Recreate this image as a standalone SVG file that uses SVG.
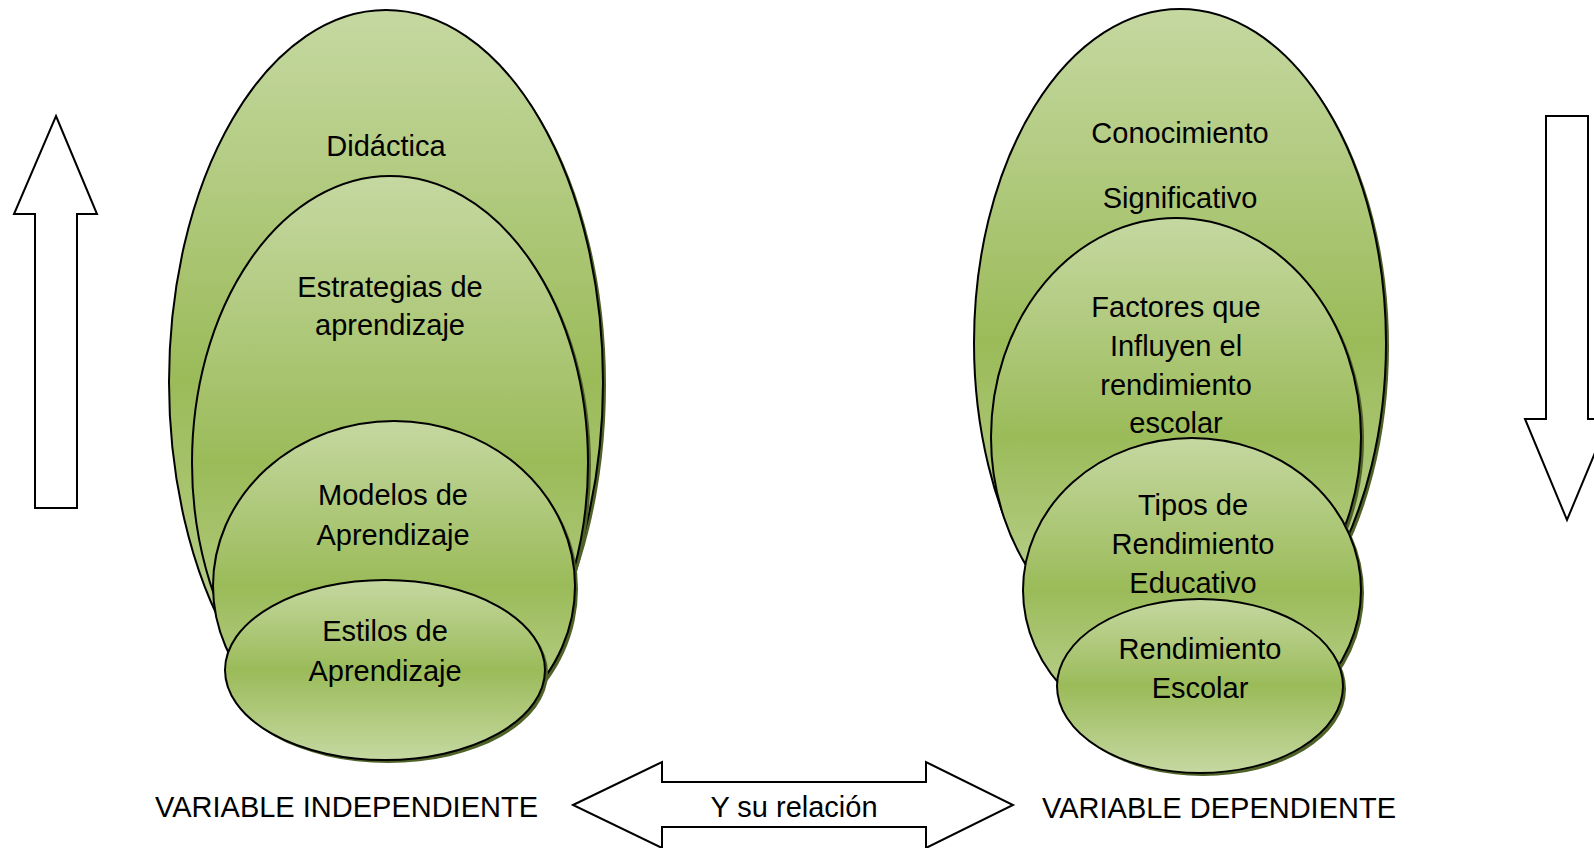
<svg xmlns="http://www.w3.org/2000/svg" width="1594" height="848" viewBox="0 0 1594 848">
  <defs>
    <linearGradient id="g" x1="0" y1="0" x2="0" y2="1">
      <stop offset="0" stop-color="#c5d8a1"/>
      <stop offset="0.5" stop-color="#9bbb59"/>
      <stop offset="1" stop-color="#c5d8a1"/>
    </linearGradient>
  </defs>
  <style>
    .sh { fill: #4f6228; }
    .el { fill: url(#g); stroke: #000; stroke-width: 2; }
    .ar { fill: #fff; stroke: #000; stroke-width: 2; stroke-linejoin: miter; }
    text { font-family: "Liberation Sans", Arial, sans-serif; font-size: 29px; fill: #000; }
    .c { text-anchor: middle; }
  </style>
  <rect width="1594" height="848" fill="#fff"/>

  <g id="didactica">
    <ellipse class="sh" cx="389" cy="385" rx="217" ry="372"/>
    <ellipse class="el" cx="386" cy="382" rx="217" ry="372"/>
    <text class="c" x="386" y="156">Didáctica</text>
  </g>
  <g id="estrategias">
    <ellipse class="sh" cx="393" cy="466" rx="198" ry="287"/>
    <ellipse class="el" cx="390" cy="463" rx="198" ry="287"/>
    <text class="c" x="390" y="297">Estrategias de</text>
    <text class="c" x="390" y="335">aprendizaje</text>
  </g>
  <g id="modelos">
    <ellipse class="sh" cx="397" cy="589" rx="181" ry="165"/>
    <ellipse class="el" cx="394" cy="586" rx="181" ry="165"/>
    <text class="c" x="393" y="505">Modelos de</text>
    <text class="c" x="393" y="545">Aprendizaje</text>
  </g>
  <g id="estilos">
    <ellipse class="sh" cx="388" cy="673" rx="160" ry="90"/>
    <ellipse class="el" cx="385" cy="670" rx="160" ry="90"/>
    <text class="c" x="385" y="641">Estilos de</text>
    <text class="c" x="385" y="681">Aprendizaje</text>
  </g>

  <g id="conocimiento">
    <ellipse class="sh" cx="1183" cy="346" rx="206" ry="334"/>
    <ellipse class="el" cx="1180" cy="343" rx="206" ry="334"/>
    <text class="c" x="1180" y="143">Conocimiento</text>
    <text class="c" x="1180" y="208">Significativo</text>
  </g>
  <g id="factores">
    <ellipse class="sh" cx="1179" cy="440" rx="185" ry="219"/>
    <ellipse class="el" cx="1176" cy="437" rx="185" ry="219"/>
    <text class="c" x="1176" y="317">Factores que</text>
    <text class="c" x="1176" y="356">Influyen el</text>
    <text class="c" x="1176" y="395">rendimiento</text>
    <text class="c" x="1176" y="433">escolar</text>
  </g>
  <g id="tipos">
    <ellipse class="sh" cx="1195" cy="593" rx="169" ry="152"/>
    <ellipse class="el" cx="1192" cy="590" rx="169" ry="152"/>
    <text class="c" x="1193" y="515">Tipos de</text>
    <text class="c" x="1193" y="554">Rendimiento</text>
    <text class="c" x="1193" y="593">Educativo</text>
  </g>
  <g id="rendimiento-escolar">
    <ellipse class="sh" cx="1203" cy="689" rx="143" ry="87"/>
    <ellipse class="el" cx="1200" cy="686" rx="143" ry="87"/>
    <text class="c" x="1200" y="659">Rendimiento</text>
    <text class="c" x="1200" y="698">Escolar</text>
  </g>

  <g id="label-independiente">
    <text x="155" y="817">VARIABLE INDEPENDIENTE</text>
  </g>
  <g id="label-dependiente">
    <text x="1042" y="818">VARIABLE DEPENDIENTE</text>
  </g>

  <g id="connectors">
    <polygon class="ar" points="56,116 97,214 77,214 77,508 35,508 35,214 14,214"/>
    <polygon class="ar" points="1546,116 1588,116 1588,419 1609,419 1567,520 1525,419 1546,419"/>
    <polygon class="ar" points="573,805 662,762 662,782 926,782 926,762 1013,805 926,848 926,827 662,827 662,848"/>
    <text class="c" x="794" y="817">Y su relación</text>
  </g>
</svg>
